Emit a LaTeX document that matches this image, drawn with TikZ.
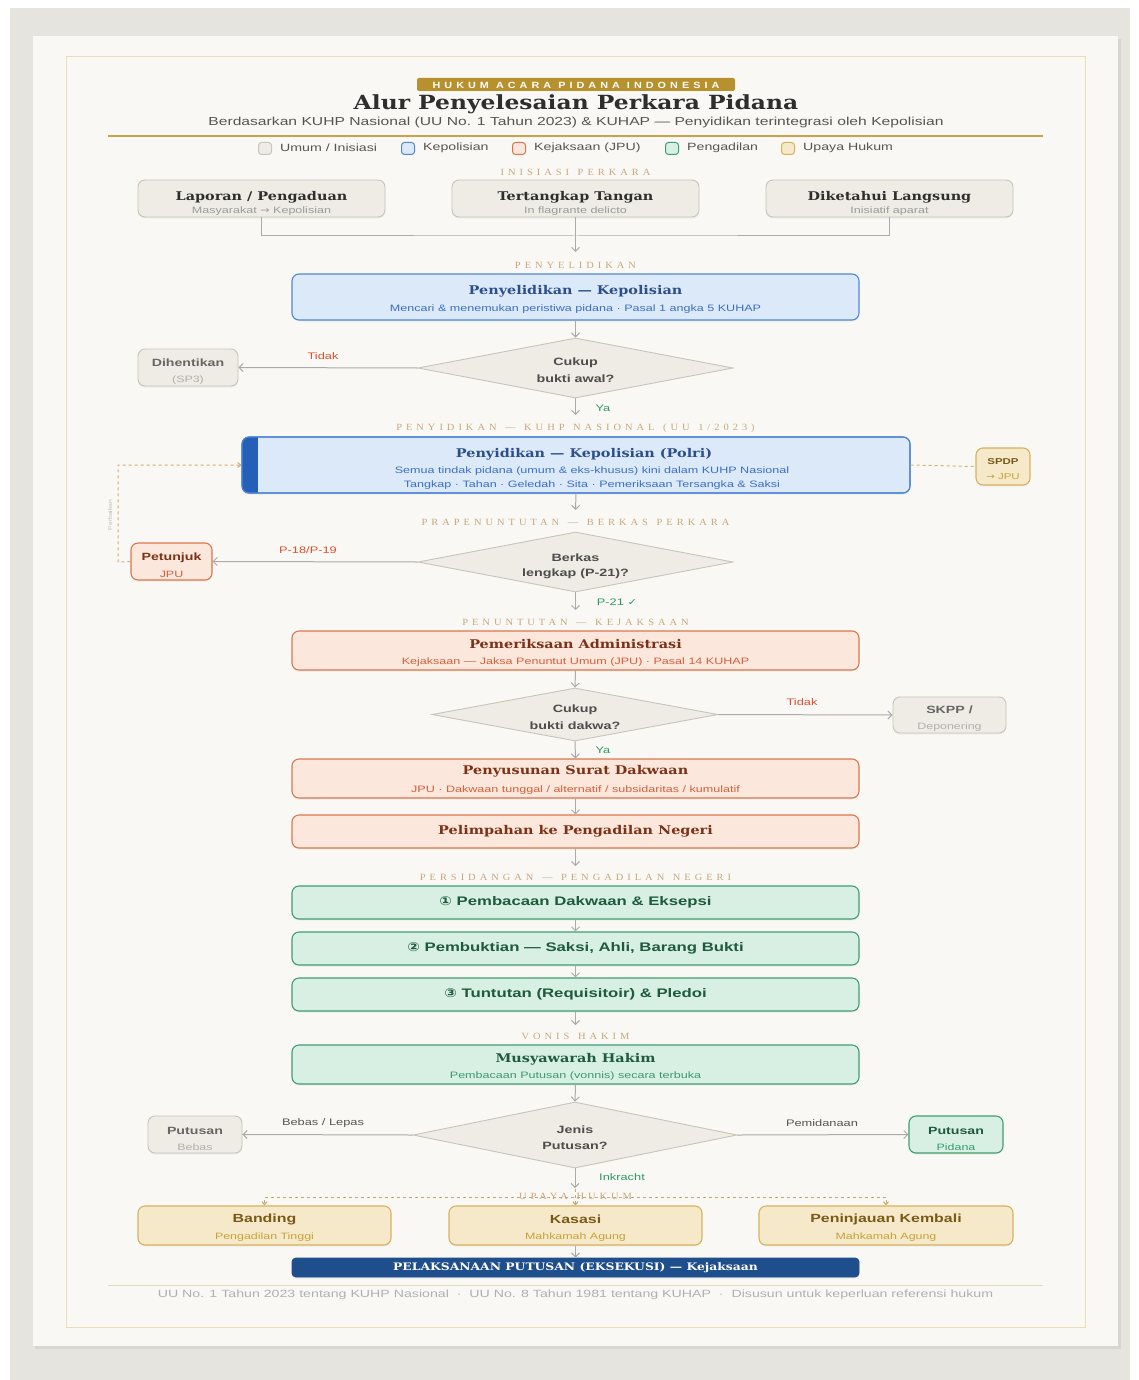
\documentclass[tikz,border=0pt]{standalone}
\usepackage{fontspec}
\setmainfont{DejaVu Serif}[FakeStretch=1.2]
\setsansfont{Liberation Sans}[FakeStretch=1.35]
\newfontfamily\secfont{Liberation Serif}[LetterSpace=42,WordSpace=1.3,FakeStretch=1.1]
\newfontfamily\tagfont{Liberation Sans}[LetterSpace=45,FakeStretch=1.2]
\newfontfamily\symfont{DejaVu Sans}[FakeStretch=1.2]
\usetikzlibrary{arrows.meta,shapes.geometric,shadows}
\definecolor{outerC}{HTML}{E6E4DF}
\definecolor{cardC}{HTML}{F9F8F4}
\definecolor{frameC}{HTML}{ECDDB6}
\definecolor{goldC}{HTML}{B8912F}
\definecolor{ruleC}{HTML}{C9A24A}
\definecolor{genF}{HTML}{EFECE6}
\definecolor{genB}{HTML}{C9C3B9}
\definecolor{genT}{HTML}{2E2E2E}
\definecolor{genS}{HTML}{9B9B9B}
\definecolor{polF}{HTML}{DCE9F9}
\definecolor{polB}{HTML}{4F86D6}
\definecolor{polT}{HTML}{2C4F8A}
\definecolor{polS}{HTML}{3B6FC6}
\definecolor{polBar}{HTML}{2560B8}
\definecolor{kejF}{HTML}{FCE7DD}
\definecolor{kejB}{HTML}{D9774A}
\definecolor{kejT}{HTML}{7B3217}
\definecolor{kejS}{HTML}{D2603A}
\definecolor{curF}{HTML}{D7F0E3}
\definecolor{curB}{HTML}{3F9E6E}
\definecolor{curT}{HTML}{1E5A3B}
\definecolor{curS}{HTML}{3A9A6A}
\definecolor{upF}{HTML}{F6E9C9}
\definecolor{upB}{HTML}{D6B25F}
\definecolor{upT}{HTML}{7A5818}
\definecolor{upS}{HTML}{C8A13A}
\definecolor{exF}{HTML}{1F4E8C}
\definecolor{secC}{HTML}{C8A77E}
\definecolor{lineC}{HTML}{ABABAB}
\definecolor{redL}{HTML}{D9502E}
\definecolor{greenL}{HTML}{2E9A62}
\definecolor{grayL}{HTML}{555555}
\definecolor{dashO}{HTML}{D8A878}
\definecolor{dashG}{HTML}{D6B36A}
\definecolor{footC}{HTML}{B0B0B0}
\definecolor{footRule}{HTML}{E8DCC0}
\tikzset{
  base/.style={rectangle, rounded corners=7pt, line width=0.9pt, inner sep=0pt,
    drop shadow={opacity=0.10, shadow xshift=0pt, shadow yshift=-1.5pt}},
  genbox/.style={base, fill=genF, draw=genB},
  polbox/.style={base, fill=polF, draw=polB, line width=1.1pt},
  kejbox/.style={base, fill=kejF, draw=kejB, line width=1.1pt},
  curbox/.style={base, fill=curF, draw=curB, line width=1.1pt},
  upbox/.style={base, fill=upF, draw=upB, line width=1.1pt},
  dia/.style={diamond, fill=genF, draw=genB, line width=0.9pt, inner sep=0pt},
  conn/.style={draw=lineC, line width=1pt},
  arr/.style={conn, -{Straight Barb[length=4pt,width=8pt]}},
  ttl/.style={font=\bfseries\fontsize{12}{14}\selectfont, inner sep=0pt},
  sub/.style={font=\sffamily\fontsize{9.3}{11}\selectfont, inner sep=0pt},
  dtxt/.style={font=\sffamily\bfseries\fontsize{10.6}{12}\selectfont, text=genT!85, inner sep=0pt},
  lbl/.style={font=\sffamily\fontsize{9.5}{11}\selectfont, inner sep=0pt},
  seclbl/.style={font=\secfont\fontsize{9.5}{11}\selectfont, text=secC, inner sep=0pt},
  smttl/.style={font=\sffamily\bfseries\fontsize{10.5}{12}\selectfont, inner sep=0pt},
  smsub/.style={font=\sffamily\fontsize{9.2}{11}\selectfont, inner sep=0pt},
  legsq/.style={rectangle, rounded corners=3pt, line width=1pt, minimum width=13pt, minimum height=12pt, inner sep=0pt},
  legtxt/.style={font=\sffamily\fontsize{10.5}{12}\selectfont, text=grayL, inner sep=0pt, anchor=west},
  curttl/.style={font=\sffamily\bfseries\fontsize{12.4}{14}\selectfont, text=curT, inner sep=0pt},
  upttl/.style={font=\sffamily\bfseries\fontsize{11.8}{13}\selectfont, text=upT, inner sep=0pt},
}
\begin{document}
\begin{tikzpicture}[x=1pt,y=-1pt]
\useasboundingbox (0,0) rectangle (1139,1380);
% background
\fill[white] (0,0) rectangle (1139,1380);
\fill[outerC] (10,8) rectangle (1130,1380);
\fill[black, opacity=0.06] (35,39) rectangle (1121,1349);
\fill[cardC] (33,36) rectangle (1118,1346);
\draw[frameC, line width=1pt] (66,57) rectangle (1085,1327);

% header
\node[fill=goldC, rounded corners=2pt, minimum width=318pt, minimum height=13pt, inner sep=0pt] (tag) at (576,84.5) {};
\node[font=\tagfont\bfseries\fontsize{9}{10}\selectfont, text=white, inner sep=0pt] (tagT) at (576,85) {HUKUM ACARA PIDANA INDONESIA};
\node[font=\bfseries\fontsize{19.5}{22}\selectfont, text=genT, inner sep=0pt] (title) at (576,104) {Alur Penyelesaian Perkara Pidana};
\node[font=\sffamily\fontsize{11.6}{13}\selectfont, text=grayL, inner sep=0pt] (subt) at (576,123) {Berdasarkan KUHP Nasional (UU No. 1 Tahun 2023) \& KUHAP — Penyidikan terintegrasi oleh Kepolisian};
\draw[ruleC, line width=1.5pt] (108,136) -- (1043,136);

% legend
\node[legsq, draw=genB, fill=genF] (lg1) at (265,148.5) {};
\node[legtxt] (lg1t) at (280,148) {Umum / Inisiasi};
\node[legsq, draw=polB, fill=polF] (lg2) at (408,148.5) {};
\node[legtxt] (lg2t) at (423,148) {Kepolisian};
\node[legsq, draw=kejB, fill=kejF] (lg3) at (519,148.5) {};
\node[legtxt] (lg3t) at (534,148) {Kejaksaan (JPU)};
\node[legsq, draw=curB, fill=curF] (lg4) at (672,148.5) {};
\node[legtxt] (lg4t) at (687,148) {Pengadilan};
\node[legsq, draw=upB, fill=upF] (lg5) at (788,148.5) {};
\node[legtxt] (lg5t) at (803,148) {Upaya Hukum};

% section labels
\node[seclbl] (s1) at (575.5,172) {INISIASI PERKARA};
\node[seclbl] (s2) at (575.5,265) {PENYELIDIKAN};
\node[seclbl] (s3) at (575.5,428) {PENYIDIKAN — KUHP NASIONAL (UU 1/2023)};
\node[seclbl] (s4) at (575.5,522) {PRAPENUNTUTAN — BERKAS PERKARA};
\node[seclbl] (s5) at (575.5,622) {PENUNTUTAN — KEJAKSAAN};
\node[seclbl] (s6) at (575.5,877) {PERSIDANGAN — PENGADILAN NEGERI};
\node[seclbl] (s7) at (575.5,1036) {VONIS HAKIM};

% initiation
\node[genbox, minimum width=247pt, minimum height=37pt] (lap) at (261.5,198.5) {};
\node[ttl, text=genT] (lapT) at (261.5,197) {Laporan / Pengaduan};
\node[sub, text=genS] (lapS) at (261.5,211) {Masyarakat {\symfont →} Kepolisian};
\node[genbox, minimum width=247pt, minimum height=37pt] (tt) at (575.5,198.5) {};
\node[ttl, text=genT] (ttT) at (575.5,197) {Tertangkap Tangan};
\node[sub, text=genS] (ttS) at (575.5,211) {In flagrante delicto};
\node[genbox, minimum width=247pt, minimum height=37pt] (dl) at (889.5,198.5) {};
\node[ttl, text=genT] (dlT) at (889.5,197) {Diketahui Langsung};
\node[sub, text=genS] (dlS) at (889.5,211) {Inisiatif aparat};
\coordinate (j1) at (575.5,236);
\coordinate (a1) at (575.5,252);
\draw[conn] (lap.south) |- (j1) -| (dl.south);
\draw[arr] (tt.south) -- (a1);

% penyelidikan
\node[polbox, minimum width=567pt, minimum height=46pt] (pyl) at (575.5,297) {};
\node[ttl, text=polT] (pylT) at (575.5,291) {Penyelidikan — Kepolisian};
\node[sub, text=polS] (pylS) at (575.5,309) {Mencari \& menemukan peristiwa pidana · Pasal 1 angka 5 KUHAP};

\node[dia, minimum width=315pt, minimum height=60pt] (d1) at (575.5,368) {};
\node[dtxt] (d1a) at (575.5,363) {Cukup};
\node[dtxt] (d1b) at (575.5,379) {bukti awal?};
\draw[arr] (pyl.south) -- (d1.north);

\node[genbox, minimum width=100pt, minimum height=37pt] (dih) at (188,367.5) {};
\node[smttl, text=grayL!90] (dihT) at (188,363) {Dihentikan};
\node[smsub, text=genS!80] (dihS) at (188,380) {(SP3)};
\draw[arr] (d1.west) -- (dih.east);
\node[lbl, text=redL] (l1) at (323,356) {Tidak};
\coordinate (a2) at (575.5,415);
\draw[arr] (d1.south) -- (a2);
\node[lbl, text=greenL] (l2) at (603,408) {Ya};

% penyidikan
\node[polbox, minimum width=668pt, minimum height=56pt] (pyd) at (576,465) {};
\begin{scope}
  \clip[rounded corners=7pt] (242,437) rectangle (910,493);
  \fill[polBar] (242,437) rectangle (258,493);
\end{scope}
\draw[polB, line width=1.1pt, rounded corners=7pt] (242,437) rectangle (910,493);
\node[ttl, text=polT] (pydT) at (584,454) {Penyidikan — Kepolisian (Polri)};
\node[sub, text=polS] (pydS1) at (592,471) {Semua tindak pidana (umum \& eks-khusus) kini dalam KUHP Nasional};
\node[sub, text=polS] (pydS2) at (592,485) {Tangkap · Tahan · Geledah · Sita · Pemeriksaan Tersangka \& Saksi};

\node[upbox, minimum width=54pt, minimum height=37pt] (spdp) at (1003,466.5) {};
\node[font=\sffamily\bfseries\fontsize{8.5}{10}\selectfont, text=upT, inner sep=0pt] (spdpT) at (1003,462) {SPDP};
\node[font=\sffamily\fontsize{8.5}{10}\selectfont, text=upS, inner sep=0pt] (spdpS) at (1003,477) {{\symfont →} JPU};
\draw[dashG, line width=1pt, dashed] (pyd.east) -- (spdp.west);
\coordinate (a3) at (575.5,510);
\draw[arr] (pyd.south) -- (a3);

% prapenuntutan
\node[dia, minimum width=315pt, minimum height=60pt] (d2) at (575.5,562) {};
\node[dtxt] (d2a) at (575.5,558) {Berkas};
\node[dtxt] (d2b) at (575.5,574) {lengkap (P-21)?};
\node[kejbox, minimum width=81pt, minimum height=37pt] (ptj) at (171.5,561.5) {};
\node[smttl, text=kejT] (ptjT) at (171.5,558) {Petunjuk};
\node[smsub, text=kejS] (ptjS) at (171.5,574) {JPU};
\draw[arr] (d2.west) -- (ptj.east);
\node[lbl, text=redL] (l3) at (308,550) {P-18/P-19};
\coordinate (fb1) at (118,562);
\coordinate (fb2) at (118,465);
\draw[dashO, line width=1pt, dashed, -{Straight Barb[length=3pt,width=5pt]}] (ptj.west) -- (fb1) -- (fb2) -- (pyd.west);
\node[font=\sffamily\fontsize{5}{6}\selectfont, text=genS!70, rotate=90, inner sep=0pt] (fbT) at (110,515) {Perbaikan};
\coordinate (a4) at (575.5,610);
\draw[arr] (d2.south) -- (a4);
\node[lbl, text=greenL] (l4) at (617,602) {P-21 {\symfont ✓}};

% penuntutan
\node[kejbox, minimum width=567pt, minimum height=39pt] (pa) at (575.5,650.5) {};
\node[ttl, text=kejT] (paT) at (575.5,644) {Pemeriksaan Administrasi};
\node[sub, text=kejS] (paS) at (575.5,662) {Kejaksaan — Jaksa Penuntut Umum (JPU) · Pasal 14 KUHAP};
\node[dia, minimum width=286pt, minimum height=53pt] (d3) at (575,714.5) {};
\node[dtxt] (d3a) at (575,710) {Cukup};
\node[dtxt] (d3b) at (575,726) {bukti dakwa?};
\draw[arr] (pa.south) -- (d3.north);
\node[genbox, minimum width=113pt, minimum height=36pt] (skpp) at (949.5,715) {};
\node[smttl, text=grayL!90] (skppT) at (949.5,710) {SKPP /};
\node[smsub, text=genS!80] (skppS) at (949.5,727) {Deponering};
\draw[arr] (d3.east) -- (skpp.west);
\node[lbl, text=redL] (l5) at (802,702) {Tidak};
\node[lbl, text=greenL] (l6) at (603,750) {Ya};

\node[kejbox, minimum width=567pt, minimum height=39pt] (psd) at (575.5,778.5) {};
\node[ttl, text=kejT] (psdT) at (575.5,771) {Penyusunan Surat Dakwaan};
\node[sub, text=kejS] (psdS) at (575.5,790) {JPU · Dakwaan tunggal / alternatif / subsidaritas / kumulatif};
\draw[arr] (d3.south) -- (psd.north);
\node[kejbox, minimum width=567pt, minimum height=33pt] (plp) at (575.5,831.5) {};
\node[ttl, text=kejT] (plpT) at (575.5,831) {Pelimpahan ke Pengadilan Negeri};
\draw[arr] (psd.south) -- (plp.north);
\coordinate (a5) at (575.5,866);
\draw[arr] (plp.south) -- (a5);

% persidangan
\node[curbox, minimum width=567pt, minimum height=33pt] (c1) at (575.5,902.5) {};
\node[curttl] (c1T) at (575.5,902) {{\symfont ①} Pembacaan Dakwaan \& Eksepsi};
\node[curbox, minimum width=567pt, minimum height=33pt] (c2) at (575.5,948.5) {};
\node[curttl] (c2T) at (575.5,948) {{\symfont ②} Pembuktian — Saksi, Ahli, Barang Bukti};
\node[curbox, minimum width=567pt, minimum height=33pt] (c3) at (575.5,994.5) {};
\node[curttl] (c3T) at (575.5,994) {{\symfont ③} Tuntutan (Requisitoir) \& Pledoi};
\draw[arr] (c1.south) -- (c2.north);
\draw[arr] (c2.south) -- (c3.north);
\coordinate (a6) at (575.5,1025);
\draw[arr] (c3.south) -- (a6);

% vonis
\node[curbox, minimum width=567pt, minimum height=39pt] (mh) at (575.5,1064.5) {};
\node[ttl, text=curT] (mhT) at (575.5,1059) {Musyawarah Hakim};
\node[sub, text=curS] (mhS) at (575.5,1076) {Pembacaan Putusan (vonnis) secara terbuka};
\node[dia, minimum width=324pt, minimum height=66pt] (d4) at (575,1135) {};
\node[dtxt] (d4a) at (575,1130) {Jenis};
\node[dtxt] (d4b) at (575,1146) {Putusan?};
\draw[arr] (mh.south) -- (d4.north);
\node[genbox, minimum width=94pt, minimum height=37pt] (pb) at (195,1134.5) {};
\node[smttl, text=grayL!90] (pbT) at (195,1131) {Putusan};
\node[smsub, text=genS!80] (pbS) at (195,1147) {Bebas};
\node[curbox, minimum width=94pt, minimum height=37pt] (pp) at (956,1134.5) {};
\node[smttl, text=curT] (ppT) at (956,1131) {Putusan};
\node[smsub, text=curS] (ppS) at (956,1147) {Pidana};
\draw[arr] (d4.west) -- (pb.east);
\draw[arr] (d4.east) -- (pp.west);
\node[lbl, text=grayL] (l7) at (323,1123) {Bebas / Lepas};
\node[lbl, text=grayL] (l8) at (822,1123) {Pemidanaan};
\coordinate (a7) at (575,1188);
\draw[arr] (d4.south) -- (a7);
\node[lbl, text=greenL] (l9) at (622,1177) {Inkracht};

% upaya hukum
\node[upbox, minimum width=253pt, minimum height=39pt] (bd) at (264.5,1225.5) {};
\node[upttl] (bdT) at (264.5,1219) {Banding};
\node[smsub, text=upS] (bdS) at (264.5,1237) {Pengadilan Tinggi};
\node[upbox, minimum width=253pt, minimum height=39pt] (ks) at (575.5,1225.5) {};
\node[upttl] (ksT) at (575.5,1219) {Kasasi};
\node[smsub, text=upS] (ksS) at (575.5,1237) {Mahkamah Agung};
\node[upbox, minimum width=254pt, minimum height=39pt] (pk) at (886,1225.5) {};
\node[upttl] (pkT) at (886,1219) {Peninjauan Kembali};
\node[smsub, text=upS] (pkS) at (886,1237) {Mahkamah Agung};
\coordinate (u0) at (575.5,1189);
\coordinate (uL) at (264.5,1197);
\coordinate (uR) at (886,1197);
\draw[dashG!80!gray, line width=1pt, dashed, -{Straight Barb[length=3pt,width=5pt]}] (uL) -- (uR) -- (pk.north);
\draw[dashG!80!gray, line width=1pt, dashed, -{Straight Barb[length=3pt,width=5pt]}] (uR) -- (uL) -- (bd.north);
\draw[dashG!80!gray, line width=1pt, dashed, -{Straight Barb[length=3pt,width=5pt]}] (u0) -- (ks.north);
\node[seclbl] (s8) at (575.5,1196) {UPAYA HUKUM};

% eksekusi
\node[base, fill=exF, draw=exF, rounded corners=4pt, minimum width=567pt, minimum height=19pt] (ex) at (575.5,1267.5) {};
\node[font=\bfseries\fontsize{10.3}{12}\selectfont, text=white, inner sep=0pt] (exT) at (575.5,1268) {PELAKSANAAN PUTUSAN (EKSEKUSI) — Kejaksaan};
\draw[arr] (ks.south) -- (ex.north);

% footer
\draw[footRule, line width=0.8pt] (108,1285) -- (1043,1285);
\node[font=\sffamily\fontsize{10.5}{12}\selectfont, text=footC, inner sep=0pt] (foot) at (575.5,1295) {UU No. 1 Tahun 2023 tentang KUHP Nasional \ · \ UU No. 8 Tahun 1981 tentang KUHAP \ · \ Disusun untuk keperluan referensi hukum};
\end{tikzpicture}
\end{document}
